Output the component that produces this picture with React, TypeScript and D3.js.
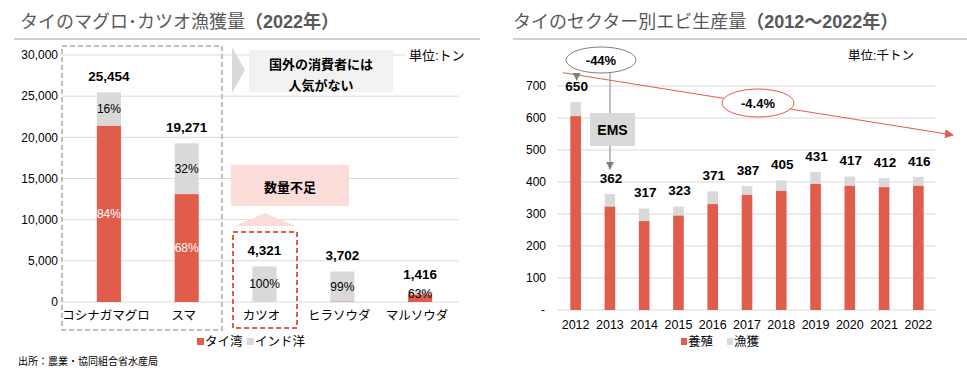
import React from "react";
import * as d3 from "d3";

const fishCategories = ["コシナガマグロ", "スマ", "カツオ", "ヒラソウダ", "マルソウダ"];
const fishTotals = [25454, 19271, 4321, 3702, 1416];
const fishThaiShare = [0.84, 0.68, 0, 0.01, 0.63];
const fishThaiLabels = ["84%", "68%", "", "", ""];
const fishIndianLabels = ["16%", "32%", "100%", "99%", "63%"];
const fishTicks = [0, 5000, 10000, 15000, 20000, 25000, 30000];

const shrimpYears = ["2012", "2013", "2014", "2015", "2016", "2017", "2018", "2019", "2020", "2021", "2022"];
const shrimpAqua = [606, 323, 278, 295, 331, 360, 372, 394, 388, 384, 388];
const shrimpCapture = [44, 39, 39, 28, 40, 27, 33, 37, 29, 28, 28];
const shrimpTotals = [650, 362, 317, 323, 371, 387, 405, 431, 417, 412, 416];
const shrimpTicks = [0, 100, 200, 300, 400, 500, 600, 700];

const RED = "#e15d4b";
const GRAY = "#d9d9d9";
const GRID = "#d9d9d9";
const FONT = "'Liberation Sans', Arial, 'Noto Sans CJK JP', sans-serif";
const fmt = d3.format(",");

function LeftChart() {
  const x = d3.scaleBand().domain(fishCategories).range([70, 459]).paddingInner(0.69).paddingOuter(0.345);
  const y = d3.scaleLinear().domain([0, 30000]).range([302, 55]);
  const bw = x.bandwidth();
  return (
    <g>
      <text x={20} y={28} fontSize={18} fill="#595959" fontFamily={FONT}>
        タイのマグロ･カツオ漁獲量<tspan fontWeight="bold">（2022年）</tspan>
      </text>
      <line x1={14} x2={480} y1={39} y2={39} stroke="#a6a6a6" strokeWidth={1.2} />
      {fishTicks.map((t) => (
        <g key={t}>
          <line x1={62} x2={459} y1={y(t)} y2={y(t)} stroke={GRID} strokeWidth={1} />
          <text x={58} y={y(t)} dy="0.35em" textAnchor="end" fontSize={12} fill="#000" fontFamily={FONT}>
            {fmt(t)}
          </text>
        </g>
      ))}
      {fishCategories.map((c, i) => {
        const total = fishTotals[i];
        const thai = total * fishThaiShare[i];
        const x0 = x(c)!;
        const cx = x0 + bw / 2;
        return (
          <g key={c}>
            <rect x={x0} y={y(total)} width={bw} height={y(thai) - y(total)} fill={GRAY} />
            {thai > 0 && <rect x={x0} y={y(thai)} width={bw} height={y(0) - y(thai)} fill={RED} />}
            <text x={cx} y={y(total) - 16} dy="0.35em" textAnchor="middle" fontSize={13.5} fontWeight="bold" fontFamily={FONT}>
              {fmt(total)}
            </text>
            {fishThaiLabels[i] && (
              <text x={cx} y={(y(thai) + y(0)) / 2} dy="0.35em" textAnchor="middle" fontSize={12} fill="#fff" fontFamily={FONT}>
                {fishThaiLabels[i]}
              </text>
            )}
            {fishIndianLabels[i] && (
              <text
                x={cx}
                y={i === 4 ? y(total) + 3 : (y(total) + y(thai)) / 2}
                dy="0.35em"
                textAnchor="middle"
                fontSize={12}
                fill="#000"
                fontFamily={FONT}
              >
                {fishIndianLabels[i]}
              </text>
            )}
            <text x={cx - 3} y={316} dy="0.35em" textAnchor="middle" fontSize={12.5} fill="#000" fontFamily={FONT}>
              {c}
            </text>
          </g>
        );
      })}
      <rect x={62} y={46} width={160} height={284} fill="none" stroke="#bfbfbf" strokeWidth={2} strokeDasharray="5,3" />
      <rect x={233} y={232} width={64} height={96} fill="none" stroke={RED} strokeWidth={2} strokeDasharray="5,3" />
      <polygon points="232,47 245,70 232,93" fill={GRAY} />
      <rect x={249} y={50} width={144} height={42} fill="#f2f2f2" />
      <text x={321} y={64} dy="0.35em" textAnchor="middle" fontSize={13} fontWeight="bold" fontFamily={FONT}>
        国外の消費者には
      </text>
      <text x={321} y={85} dy="0.35em" textAnchor="middle" fontSize={13} fontWeight="bold" fontFamily={FONT}>
        人気がない
      </text>
      <rect x={405} y={47} width={56} height={16} fill="#fff" />
      <text x={409} y={55} dy="0.35em" fontSize={13} fontFamily={FONT}>
        単位:トン
      </text>
      <rect x={231} y={165} width={118} height={41} fill="#fadcd9" />
      <text x={290} y={187} dy="0.35em" textAnchor="middle" fontSize={13} fontWeight="bold" fontFamily={FONT}>
        数量不足
      </text>
      <polygon points="235,226 295,226 265,213" fill="#fadcd9" />
      <rect x={197} y={338} width={7} height={7} fill={RED} />
      <text x={205} y={341.5} dy="0.35em" fontSize={12.5} fontFamily={FONT}>
        タイ湾
      </text>
      <rect x={247} y={338} width={7} height={7} fill={GRAY} />
      <text x={255} y={341.5} dy="0.35em" fontSize={12.5} fontFamily={FONT}>
        インド洋
      </text>
      <text x={18} y={361} dy="0.35em" fontSize={10} fontFamily={FONT}>
        出所：農業・協同組合省水産局
      </text>
    </g>
  );
}

function RightChart() {
  const x = d3.scaleBand().domain(shrimpYears).range([558.5, 935.5]).paddingInner(0.69).paddingOuter(0.345);
  const y = d3.scaleLinear().domain([0, 700]).range([310, 86]);
  const bw = x.bandwidth();
  const cx = (yr: string) => x(yr)! + bw / 2;
  const tx1 = 563, ty1 = 72.7, tx2 = 953, ty2 = 135;
  return (
    <g>
      <defs>
        <marker id="arrRed" viewBox="0 0 10 10" refX="9" refY="5" markerWidth="9" markerHeight="9" orient="auto" markerUnits="userSpaceOnUse">
          <path d="M0,0 L10,5 L0,10 z" fill={RED} />
        </marker>
        <marker id="arrGray" viewBox="0 0 10 10" refX="9" refY="5" markerWidth="8" markerHeight="8" orient="auto" markerUnits="userSpaceOnUse">
          <path d="M0,0 L10,5 L0,10 z" fill="#7f7f7f" />
        </marker>
      </defs>
      <text x={513} y={28} fontSize={18} fill="#595959" fontFamily={FONT}>
        タイのセクター別エビ生産量<tspan fontWeight="bold">（2012～2022年）</tspan>
      </text>
      <line x1={513} x2={967} y1={39} y2={39} stroke="#a6a6a6" strokeWidth={1.2} />
      {shrimpTicks.map((t) => (
        <g key={t}>
          <line x1={558} x2={935} y1={y(t)} y2={y(t)} stroke={GRID} strokeWidth={1} />
          <text x={t === 0 ? 545 : 546} y={y(t)} dy="0.35em" textAnchor="end" fontSize={12} fontFamily={FONT}>
            {t === 0 ? "-" : t}
          </text>
        </g>
      ))}
      {shrimpYears.map((yr, i) => {
        const a = shrimpAqua[i];
        const c = shrimpCapture[i];
        return (
          <g key={yr}>
            <rect x={x(yr)} y={y(a + c)} width={bw} height={y(a) - y(a + c)} fill={GRAY} />
            <rect x={x(yr)} y={y(a)} width={bw} height={y(0) - y(a)} fill={RED} />
            <text x={cx(yr) + 1} y={y(shrimpTotals[i]) - 16} dy="0.35em" textAnchor="middle" fontSize={13.5} fontWeight="bold" fontFamily={FONT}>
              {shrimpTotals[i]}
            </text>
            <text x={cx(yr)} y={325} dy="0.35em" textAnchor="middle" fontSize={12.5} fontFamily={FONT}>
              {yr}
            </text>
          </g>
        );
      })}
      <line x1={tx1} y1={ty1} x2={tx2} y2={ty2} stroke={RED} strokeWidth={1} markerEnd="url(#arrRed)" />
      <ellipse cx={758} cy={103} rx={36} ry={14} fill="#fff" stroke={RED} strokeWidth={1} />
      <text x={758} y={103} dy="0.35em" textAnchor="middle" fontSize={13} fontWeight="bold" fontFamily={FONT}>
        -4.4%
      </text>
      <line x1={576.7} y1={73} x2={576.7} y2={80} stroke="#7f7f7f" strokeWidth={1} markerEnd="url(#arrGray)" />
      <line x1={610} y1={73} x2={610} y2={169} stroke="#7f7f7f" strokeWidth={1} markerEnd="url(#arrGray)" />
      <ellipse cx={601} cy={60} rx={35} ry={13} fill="#fff" stroke="#808080" strokeWidth={1} />
      <text x={601} y={60} dy="0.35em" textAnchor="middle" fontSize={13} fontWeight="bold" fontFamily={FONT}>
        -44%
      </text>
      <rect x={590} y={113} width={45} height={33} fill={GRAY} />
      <text x={612.5} y={130} dy="0.35em" textAnchor="middle" fontSize={14} fontWeight="bold" fontFamily={FONT}>
        EMS
      </text>
      <text x={848} y={56} dy="0.35em" fontSize={12.5} fontFamily={FONT}>
        単位:千トン
      </text>
      <rect x={681} y={338} width={6} height={7} fill={RED} />
      <text x={688} y={341.5} dy="0.35em" fontSize={12.5} fontFamily={FONT}>
        養殖
      </text>
      <rect x={727} y={338} width={6} height={7} fill={GRAY} />
      <text x={734} y={341.5} dy="0.35em" fontSize={12.5} fontFamily={FONT}>
        漁獲
      </text>
    </g>
  );
}

export default function App() {
  return (
    <svg
      width={967}
      height={380}
      viewBox="0 0 967 380"
      style={{ position: "absolute", left: 0, top: 0, background: "#fff", display: "block" }}
    >
      <rect x={0} y={0} width={967} height={380} fill="#fff" />
      <LeftChart />
      <RightChart />
    </svg>
  );
}
